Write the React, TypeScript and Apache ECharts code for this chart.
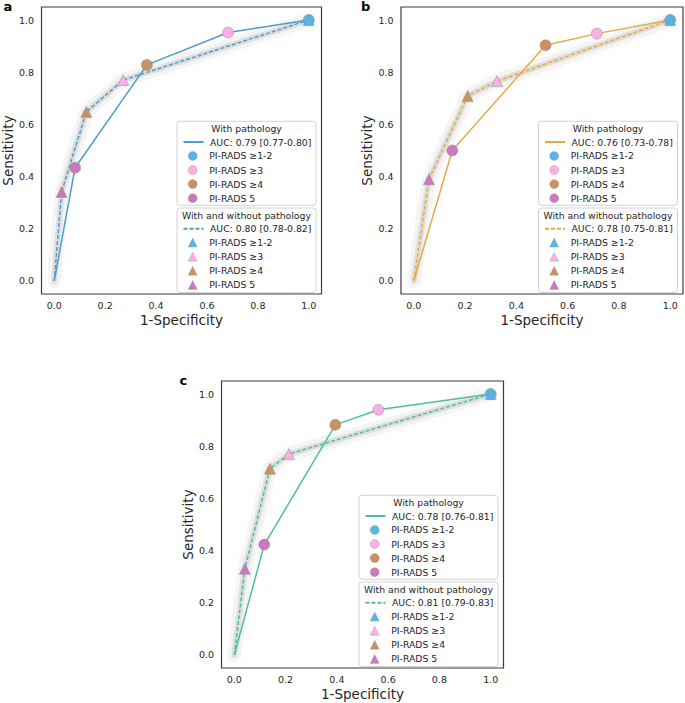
import React, { useEffect, useRef } from "react";
import * as echarts from "echarts";

const TICKS = [0, 0.2, 0.4, 0.6, 0.8, 1.0];
const PANELS = ["a", "b", "c"];
const RADS_LABELS = ["PI-RADS ≥1-2", "PI-RADS ≥3", "PI-RADS ≥4", "PI-RADS 5"];
const MARKER_COLORS = ["#56b4e9", "#fbafe4", "#ca9161", "#cc78bc"];
const LINE_COLORS = ["#4d9cc9", "#e6aa44", "#4ebf9b"];
const AUC_PATH = ["AUC: 0.79 [0.77-0.80]", "AUC: 0.76 [0.73-0.78]", "AUC: 0.78 [0.76-0.81]"];
const AUC_ALL = ["AUC: 0.80 [0.78-0.82]", "AUC: 0.78 [0.75-0.81]", "AUC: 0.81 [0.79-0.83]"];
const TITLE_PATH = "With pathology";
const TITLE_ALL = "With and without pathology";
const X_NAME = "1-Specificity";
const Y_NAME = "Sensitivity";

// operating points, order: ≥1-2, ≥3, ≥4, 5 ; [1-specificity, sensitivity]
const PATH_A = [[1, 1], [0.683, 0.952], [0.364, 0.828], [0.082, 0.434]];
const ALL_A = [[1, 1], [0.271, 0.77], [0.126, 0.648], [0.029, 0.341]];
const PATH_B = [[1, 1], [0.714, 0.948], [0.514, 0.903], [0.15, 0.5]];
const ALL_B = [[1, 1], [0.325, 0.766], [0.21, 0.709], [0.059, 0.39]];
const PATH_C = [[1, 1], [0.562, 0.94], [0.394, 0.882], [0.117, 0.423]];
const ALL_C = [[1, 1], [0.213, 0.77], [0.139, 0.714], [0.041, 0.33]];
const ORIGIN = [0, 0];

const PATH_POINTS = [PATH_A, PATH_B, PATH_C];
const ALL_POINTS = [ALL_A, ALL_B, ALL_C];

const GRIDS = [
  { left: 39.5, top: 7, width: 282, height: 287 },
  { left: 401, top: 7, width: 282, height: 287 },
  { left: 221.5, top: 381, width: 282, height: 287 },
];
const LETTER_POS = [
  [3.5, 6.3],
  [361, 6],
  [179.5, 380.3],
];

const FONT = "DejaVu Sans";
const TEXT_COLOR = "#262626";
const TRANSPARENT = "rgba(0,0,0,0)";
const LEGEND_FONT = 9.3;

function buildOption() {
  const grid: any[] = [];
  const xAxis: any[] = [];
  const yAxis: any[] = [];
  const series: any[] = [];
  const legend: any[] = [];
  const graphic: any[] = [];
  const nameMap: Record<string, string> = {};
  const fmt = (name: string) => nameMap[name] || name;

  PANELS.forEach((p, i) => {
    const g = GRIDS[i];
    grid.push({
      left: g.left,
      top: g.top,
      width: g.width,
      height: g.height,
      show: true,
      borderColor: "#3c3c3c",
      borderWidth: 1.2,
      backgroundColor: "#ffffff",
      containLabel: false,
    });
    const axisCommon = {
      type: "value",
      gridIndex: i,
      min: -0.05,
      max: 1.05,
      axisLine: { show: false },
      axisTick: { show: false },
      splitLine: { show: false },
      nameLocation: "middle",
      nameTextStyle: { fontSize: 13.5, color: TEXT_COLOR, fontFamily: FONT },
    };
    xAxis.push({
      ...axisCommon,
      name: X_NAME,
      nameGap: 19,
      axisLabel: {
        customValues: TICKS,
        formatter: (v: number) => v.toFixed(1),
        fontSize: 9.5,
        color: TEXT_COLOR,
        fontFamily: FONT,
        margin: 6.5,
      },
    });
    yAxis.push({
      ...axisCommon,
      name: Y_NAME,
      nameGap: 25,
      axisLabel: {
        customValues: TICKS,
        formatter: (v: number) => v.toFixed(1),
        fontSize: 9.5,
        color: TEXT_COLOR,
        fontFamily: FONT,
        margin: 7.5,
      },
    });

    const pathCurve = [ORIGIN, ...PATH_POINTS[i].slice().reverse()];
    const allCurve = [ORIGIN, ...ALL_POINTS[i].slice().reverse()];

    // grey bootstrap band around the dashed curve
    series.push({
      type: "line",
      name: `${p}-band1`,
      xAxisIndex: i,
      yAxisIndex: i,
      data: allCurve,
      symbol: "none",
      silent: true,
      z: 1,
      lineStyle: {
        width: 14,
        color: "rgba(150,150,150,0.09)",
        cap: "round",
        join: "round",
        shadowBlur: 6,
        shadowColor: "rgba(150,150,150,0.3)",
      },
    });
    series.push({
      type: "line",
      name: `${p}-band2`,
      xAxisIndex: i,
      yAxisIndex: i,
      data: allCurve,
      symbol: "none",
      silent: true,
      z: 1,
      lineStyle: {
        width: 6,
        color: "rgba(140,140,140,0.2)",
        cap: "round",
        join: "round",
      },
    });

    const pathLineName = `${p}-path-line`;
    const allLineName = `${p}-all-line`;
    nameMap[pathLineName] = AUC_PATH[i];
    nameMap[allLineName] = AUC_ALL[i];

    series.push({
      type: "line",
      name: pathLineName,
      xAxisIndex: i,
      yAxisIndex: i,
      data: pathCurve,
      symbol: "none",
      silent: true,
      z: 3,
      itemStyle: { color: LINE_COLORS[i] },
      lineStyle: { width: 1.5, color: LINE_COLORS[i], type: "solid" },
    });
    series.push({
      type: "line",
      name: allLineName,
      xAxisIndex: i,
      yAxisIndex: i,
      data: allCurve,
      symbol: "none",
      silent: true,
      z: 3,
      itemStyle: { color: LINE_COLORS[i] },
      lineStyle: { width: 1.5, color: LINE_COLORS[i], type: [4, 2] },
    });

    const pathMarkers: string[] = [];
    const allMarkers: string[] = [];

    PATH_POINTS[i].forEach((pt, k) => {
      const nm = `${p}-path-${k}`;
      nameMap[nm] = RADS_LABELS[k];
      pathMarkers.push(nm);
      series.push({
        type: "scatter",
        name: nm,
        xAxisIndex: i,
        yAxisIndex: i,
        data: [pt],
        symbol: "circle",
        symbolSize: 11,
        silent: true,
        z: 5,
        itemStyle: {
          color: MARKER_COLORS[k],
          borderColor: "#8f8f8f",
          borderWidth: 0.5,
          opacity: 1,
        },
      });
    });
    ALL_POINTS[i].forEach((pt, k) => {
      const nm = `${p}-all-${k}`;
      nameMap[nm] = RADS_LABELS[k];
      allMarkers.push(nm);
      series.push({
        type: "scatter",
        name: nm,
        xAxisIndex: i,
        yAxisIndex: i,
        data: [pt],
        symbol: "triangle",
        symbolSize: 11,
        silent: true,
        z: 6,
        itemStyle: {
          color: MARKER_COLORS[k],
          borderColor: "#8f8f8f",
          borderWidth: 0.5,
          opacity: 1,
        },
      });
    });

    // legend boxes
    const frameRight = g.left + g.width;
    const boxLeft = frameRight - 144.5;
    const boxW = 139;
    const boxes = [
      { top: g.top + 114.3, h: 84, title: TITLE_PATH, line: pathLineName, markers: pathMarkers },
      { top: g.top + 201, h: 84.5, title: TITLE_ALL, line: allLineName, markers: allMarkers },
    ];
    boxes.forEach((b) => {
      graphic.push({
        type: "rect",
        z: 20,
        shape: { x: boxLeft, y: b.top, width: boxW, height: b.h, r: 3 },
        style: { fill: "rgba(255,255,255,0.85)", stroke: "#d2d2d2", lineWidth: 1 },
      });
      graphic.push({
        type: "text",
        z: 21,
        x: boxLeft + boxW / 2,
        y: b.top + 7.6,
        style: {
          text: b.title,
          fontSize: LEGEND_FONT,
          fontFamily: FONT,
          fill: TEXT_COLOR,
          textAlign: "center",
          textVerticalAlign: "middle",
        },
      });
      // line entry
      legend.push({
        orient: "vertical",
        left: boxLeft + 5.5,
        top: b.top + 15.7,
        padding: 0,
        itemWidth: 20,
        itemHeight: 10,
        z: 22,
        selectedMode: false,
        data: [
          {
            name: b.line,
            itemStyle: { color: TRANSPARENT, borderColor: TRANSPARENT, borderWidth: 0 },
          },
        ],
        formatter: fmt,
        textStyle: {
          fontSize: LEGEND_FONT,
          color: TEXT_COLOR,
          fontFamily: FONT,
          lineHeight: 10,
          padding: [0, 0, 0, 1.5],
        },
      });
      // marker entries
      legend.push({
        orient: "vertical",
        left: boxLeft + 11,
        top: b.top + 20.7 + 13.7 - 4.5,
        padding: 0,
        itemWidth: 9,
        itemHeight: 9,
        itemGap: 4.7,
        z: 22,
        selectedMode: false,
        data: b.markers,
        formatter: fmt,
        itemStyle: { borderWidth: 0.4, borderColor: "#a0a0a0" },
        textStyle: {
          fontSize: LEGEND_FONT,
          color: TEXT_COLOR,
          fontFamily: FONT,
          lineHeight: 9,
          padding: [0, 0, 0, 7],
        },
      });
    });

    graphic.push({
      type: "text",
      z: 30,
      x: LETTER_POS[i][0],
      y: LETTER_POS[i][1],
      style: {
        text: p,
        fontSize: 13,
        fontWeight: "bold",
        fontFamily: FONT,
        fill: "#000000",
        textVerticalAlign: "middle",
      },
    });
  });

  return {
    animation: false,
    backgroundColor: "#ffffff",
    textStyle: { fontFamily: FONT },
    grid,
    xAxis,
    yAxis,
    series,
    legend,
    graphic,
  };
}

export default function App() {
  const ref = useRef<HTMLDivElement>(null);
  useEffect(() => {
    if (!ref.current) return;
    const chart = echarts.init(ref.current, undefined, { renderer: "svg" });
    chart.setOption(buildOption() as any);
    return () => {
      chart.dispose();
    };
  }, []);
  return (
    <div
      ref={ref}
      style={{ position: "fixed", left: 0, top: 0, width: 685, height: 703, background: "#fff" }}
    />
  );
}
